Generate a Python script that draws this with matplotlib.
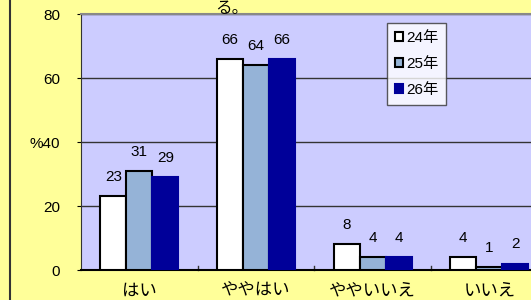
import numpy as np
import matplotlib.pyplot as plt
from matplotlib.patches import Patch
from matplotlib.lines import Line2D

plt.rcParams['font.family'] = ['Liberation Sans', 'Noto Sans CJK JP']

categories = ['はい', 'ややはい', 'ややいいえ', 'いいえ']
series_names = ['24年', '25年', '26年']
v24 = [23, 66, 8, 4]
v25 = [31, 64, 4, 1]
v26 = [29, 66, 4, 2]
yticks = [0, 20, 40, 60, 80]
ytick_labels = ['0', '20', '%40', '60', '80']

colors = ['#FFFFFF', '#95B3D7', '#000099']
edges = ['black', 'black', '#000099']

fig = plt.figure(figsize=(5.31, 3.0), dpi=100)
fig.patch.set_facecolor('#FFFF99')
ax = fig.add_axes([81/531, 30/300, 466.7/531, 256/300])
ax.set_facecolor('#CCCCFF')

x = np.arange(len(categories))
w = 0.223
for i, vals in enumerate([v24, v25, v26]):
    pos = x + (i - 1) * w
    ax.bar(pos, vals, width=w, color=colors[i], edgecolor=edges[i], linewidth=1.5, zorder=3)
    for p, v in zip(pos, vals):
        ax.text(p, v + 6, str(v), ha='center', va='center', fontsize=11, zorder=4)

ax.set_xlim(-0.5, len(categories) - 0.5)
ax.set_ylim(0, 80)
ax.set_yticks(yticks)
ax.set_yticklabels(ytick_labels, fontsize=11)
ax.yaxis.grid(True, color='#333333', linewidth=1)
ax.set_axisbelow(True)
ax.set_xticks(x)
ax.set_xticklabels(categories, fontsize=12.5)
ax.tick_params(axis='x', length=0, pad=10)
ax.tick_params(axis='y', length=3, pad=12)
for b in np.arange(0.5, len(categories) - 0.5, 1):
    ax.plot([b, b], [0, 1.3], color='#333333', lw=1, zorder=2, clip_on=False)
ax.spines['right'].set_visible(False)
ax.spines['top'].set_color('#888888')
ax.spines['top'].set_linewidth(1.5)
ax.spines['left'].set_color('#333333')
ax.spines['bottom'].set_color('black')
ax.spines['bottom'].set_linewidth(1.5)

handles = [Patch(facecolor=colors[i], edgecolor=edges[i], linewidth=1.5) for i in range(3)]
leg = fig.legend(handles, series_names, loc='upper left', bbox_to_anchor=(387/531, 1 - 23/300),
                 fontsize=11, frameon=True, fancybox=False, edgecolor='#333333',
                 handlelength=0.55, handleheight=0.55, handletextpad=0.2,
                 labelspacing=0.8, borderpad=0.5, borderaxespad=0)
leg.get_frame().set_linewidth(1)

fig.text(232/531, 1 - 9/300, 'る。', ha='center', va='center', fontsize=12)
fig.add_artist(Line2D([10/531, 10/531], [0, 1], color='#333333', lw=1.5))

fig.savefig('out.png', dpi=100)
